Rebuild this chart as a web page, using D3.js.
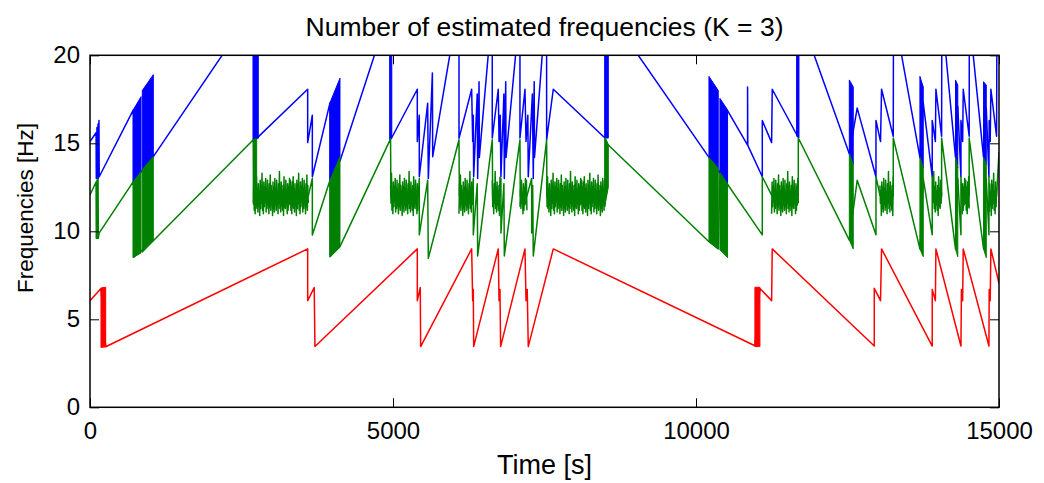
<!DOCTYPE html>
<html>
<head>
<meta charset="utf-8">
<script src="https://cdn.jsdelivr.net/npm/d3@7"></script>
<style>
  body { margin: 0; background: #fff; }
  svg { display: block; }
  text { font-family: "Liberation Sans", Arial, sans-serif; fill: #000; }
</style>
</head>
<body>
<svg id="chart"></svg>
<script>
// ---- data (time [s], frequency [Hz]) ----
var xTicks = [0, 5000, 10000, 15000];
var yTicks = [0, 5, 10, 15, 20];

var redPts = [[0,6.06],[181,6.75],[259,3.44],[3592,9.0],[3592,6.06],[3700,6.8],[3712,3.45],
  [5401,9.0],[5401,6.06],[5450,6.8],[5456,3.45],[6298,9.0],[6315,6.06],[6325,6.7],[6331,3.45],
  [6737,9.0],[6750,6.06],[6765,6.7],[6776,3.45],[7178,9.0],[7195,6.06],[7215,6.7],[7232,3.45],
  [7645,9.0],[10972,3.5],[11055,6.75],[11248,6.06],[11258,9.0],[12942,3.48],[12942,6.76],
  [13045,6.06],[13062,9.0],[13898,3.48],[13898,6.7],[13950,6.06],[13959,9.0],[14372,3.48],
  [14380,6.7],[14400,6.06],[14410,9.0],[14834,3.48],[14838,6.7],[14855,6.06],[14866,9.0],[15000,7.05]];

var greenPts = [[0,12.06],[100,12.8],[104,9.6],[115,12.9],[119,9.6],[133,13.0],[137,9.6],[150,9.9],
  [715,12.82],[715,8.52],[1040,9.45],[2695,15.2],[2700,12.0],[3602,12.0],[3669,13.0],[3669,9.79],
  [3960,12.9],[3960,8.56],[4125,9.13],[4960,15.25],[4965,12.0],[5418,12.0],[5434,13.0],[5434,9.8],
  [5572,12.9],[5583,8.47],[6089,15.2],[6095,12.0],[6308,12.0],[6325,13.0],[6325,9.8],[6390,12.7],
  [6397,8.6],[6638,15.2],[6645,12.0],[6765,12.0],[6781,13.0],[6781,9.9],[6830,12.7],[6837,8.6],
  [7095,15.2],[7100,12.0],[7210,12.0],[7288,13.0],[7288,9.9],[7305,12.6],[7315,8.6],[7535,15.2],
  [7540,12.0],[8498,12.0],[8498,15.3],[8553,14.9],[10214,9.41],[10367,9.0],[10395,13.3],
  [11094,9.8],[11094,13.1],[11248,12.06],[11688,12.0],[11688,15.3],[12530,9.5],[12660,12.9],
  [12970,9.8],[12970,13.1],[13035,12.06],[13255,12.0],[13255,15.3],[13695,9.0],[13750,13.0],
  [13898,9.8],[13898,13.1],[13915,12.0],[14053,12.0],[14053,15.3],[14282,9.0],[14320,13.0],
  [14372,9.8],[14372,13.1],[14385,12.0],[14508,12.0],[14508,15.3],[14745,9.0],[14790,13.0],
  [14834,9.8],[14834,13.1],[14840,12.0],[14960,12.0],[15000,14.5]];

var bluePts = [[0,15.1],[100,15.6],[104,13.0],[115,15.9],[119,13.0],[133,16.1],[137,13.0],[148,16.3],
  [152,13.1],[715,16.9],[715,12.82],[1045,14.24],[2200,20.1],[2450,22],[2695,21],[2695,15.2],
  [2750,15.28],[3592,18.07],[3592,15.04],[3669,16.6],[3669,13.1],[3960,17.3],[3960,12.9],
  [4125,14.0],[4703,20.1],[4850,21.5],[4950,21],[4950,15.2],[4977,15.3],[5401,18.07],[5401,15.1],
  [5434,16.6],[5434,13.1],[5572,17.27],[5583,13.0],[5650,19.0],[5655,14.24],[5940,20.07],
  [6000,21],[6089,21],[6089,15.28],[6298,18.07],[6315,15.1],[6325,16.6],[6331,13.1],[6390,17.8],
  [6397,13.0],[6420,18.5],[6425,14.2],[6572,20.05],[6600,21],[6638,21],[6638,15.3],[6737,18.07],
  [6750,15.1],[6770,16.6],[6781,13.1],[6830,17.8],[6837,13.0],[6860,18.5],[6865,14.2],
  [7024,20.05],[7060,21],[7095,21],[7095,15.3],[7178,18.07],[7195,15.1],[7225,16.6],[7232,13.1],
  [7300,17.8],[7315,13.0],[7330,18.5],[7335,14.2],[7463,20.05],[7500,21],[7535,21],[7535,15.2],
  [7645,18.07],[8498,15.3],[8498,21],[8553,21],[8800,22],[9047,20],[10214,14.2],[10395,13.3],
  [10521,16.85],[10851,14.9],[10851,18.2],[10855,14.88],[11094,13.1],[11094,16.3],[11248,15.04],
  [11258,18.07],[11676,15.4],[11680,21],[11800,22],[11950,20],[12530,14.4],[12660,17.0],
  [12970,13.1],[12970,16.3],[13045,15.1],[13062,18.07],[13255,15.4],[13258,21],[13330,22],
  [13393,20],[13695,14.2],[13750,17.3],[13898,13.1],[13898,16.3],[13950,15.1],[13959,18.07],
  [14053,15.4],[14056,21],[14090,22],[14124,20],[14282,14.2],[14320,17.1],[14372,13.1],
  [14372,16.3],[14400,15.1],[14410,18.07],[14508,15.4],[14510,21],[14540,22],[14575,20],
  [14745,14.2],[14790,17.0],[14834,13.1],[14838,16.3],[14855,15.1],[14866,18.07],[14960,15.4],
  [14965,21],[15000,22]];

// dense oscillation regions, drawn as filled outlines
var redBands = [
  [[181,3.40],[259,3.44],[259,6.82],[181,6.78]],
  [[10972,3.45],[11055,3.45],[11055,6.82],[10972,6.82]]
];
var greenBands = [
  [[715,8.52],[842,8.77],[842,13.4],[715,12.82]],
  [[863,8.8],[1045,9.45],[1045,14.24],[863,13.5]],
  [[2695,11.5],[2750,12.5],[2750,15.28],[2695,15.2]],
  [[3960,8.56],[4125,9.13],[4125,14.24],[3960,12.9]],
  [[8498,11.5],[8553,12.5],[8553,14.9],[8498,15.3]],
  [[10214,9.41],[10367,9.0],[10367,13.58],[10214,14.2]],
  [[10395,8.94],[10521,8.5],[10521,12.67],[10395,13.3]],
  [[12530,9.5],[12595,9.0],[12595,13.8],[12530,14.4]],
  [[13695,9.0],[13750,8.56],[13750,13.6],[13695,14.2]],
  [[14282,9.0],[14320,8.56],[14320,13.6],[14282,14.2]],
  [[14745,9.0],[14790,8.5],[14790,13.8],[14745,14.2]]
];
var blueBands = [
  [[715,12.82],[842,13.4],[842,17.65],[715,16.9]],
  [[863,13.5],[1045,14.24],[1045,18.9],[863,18.0]],
  [[2695,15.2],[2777,15.28],[2777,20.5],[2695,20.5]],
  [[3960,12.9],[4125,14.24],[4125,18.7],[3960,17.3]],
  [[4950,15.2],[4980,15.3],[4980,20.5],[4950,20.5]],
  [[8498,15.3],[8553,15.3],[8553,20.5],[8498,20.5]],
  [[10214,14.2],[10367,13.58],[10367,18.0],[10214,18.8]],
  [[10395,13.3],[10521,12.67],[10521,16.9],[10395,17.55]],
  [[11660,15.4],[11699,15.3],[11699,20.5],[11660,20.5]],
  [[12530,14.4],[12595,13.8],[12595,18.2],[12530,18.6]],
  [[13695,14.2],[13750,13.6],[13750,18.2],[13695,18.8]],
  [[14282,14.2],[14320,13.6],[14320,18.3],[14282,18.6]],
  [[14745,14.2],[14790,13.8],[14790,18.3],[14745,18.5]]
];

// green noisy stretches [start, end] and the noise values seen in them
var noiseSpans = [[2695,3602],[4960,5418],[6089,6308],[6638,6765],[7095,7210],[7535,8498],
  [11248,11688],[13035,13255],[13915,14053],[14385,14508],[14840,14960]];
var noiseVals = [11.6,12.9,11.2,12.5,11.0,12.8,11.4,13.1,11.3,12.4,11.1,12.7,11.5,12.2,10.9,12.9,
  11.3,12.6,11.6,13.3,11.2,12.3,11.0,12.8,11.4,12.5,11.7,13.0,11.1,12.4,11.3,12.9,11.5,12.1,11.0,
  12.7,11.4,13.2,11.2,12.6,11.6,12.3,10.9,12.8,11.3,12.5,11.1,13.0,11.5,12.4,11.2,12.9,11.4,12.2,
  11.0,12.7,11.6,13.4,11.3,12.5,11.1,12.8,11.5,12.3,11.2,12.6,10.9,13.1,11.4,12.4,11.3,12.9,11.6,
  12.2,11.0,12.7,11.2,12.5,11.5,13.0];

// ---- drawing ----
var svgW = 1044, svgH = 483;
var plotL = 90, plotR = 999, plotT = 55.3, plotB = 407.3;
var tickFont = 24, titleFont = 26.5, xLabelFont = 27, yLabelFont = 22.5;

var svg = d3.select('#chart').attr('width', svgW).attr('height', svgH);

var x = d3.scaleLinear().domain([0, 15000]).range([plotL, plotR]);
var y = d3.scaleLinear().domain([0, 20]).range([plotB, plotT]);

svg.append('defs').append('clipPath').attr('id', 'plotclip')
  .append('rect').attr('x', plotL).attr('y', plotT)
  .attr('width', plotR - plotL).attr('height', plotB - plotT);

var plot = svg.append('g').attr('clip-path', 'url(#plotclip)');
var line = d3.line().x(function(d) { return x(d[0]); }).y(function(d) { return y(d[1]); });

function drawSeries(pts, bands, color) {
  plot.selectAll(null).data(bands).enter().append('path')
    .attr('d', function(d) { return line(d) + 'Z'; })
    .attr('fill', color).attr('stroke', color).attr('stroke-width', 1);
  plot.append('path').datum(pts)
    .attr('d', line)
    .attr('fill', 'none').attr('stroke', color)
    .attr('stroke-width', 1.5).attr('stroke-linejoin', 'round');
}

// noise polylines
var noiseLines = noiseSpans.map(function(s, k) {
  var n = Math.max(8, Math.round((x(s[1]) - x(s[0])) * 2.2));
  var pts = [];
  for (var i = 0; i < n; i++) {
    pts.push([s[0] + (s[1] - s[0]) * i / (n - 1), noiseVals[(i + k * 17) % noiseVals.length]]);
  }
  return pts;
});

drawSeries(bluePts, blueBands, '#0000ff');
drawSeries(greenPts, greenBands, '#008000');
plot.selectAll(null).data(noiseLines).enter().append('path')
  .attr('d', line).attr('fill', 'none').attr('stroke', '#008000')
  .attr('stroke-width', 1.5).attr('stroke-linejoin', 'round');
drawSeries(redPts, redBands, '#ff0000');

// ---- axes (MATLAB style box, inward ticks) ----
var tickLen = 9;
var axes = svg.append('g');

axes.append('g').attr('transform', 'translate(0,' + plotB + ')')
  .call(d3.axisBottom(x).tickValues(xTicks).tickSize(-tickLen).tickPadding(15)
    .tickFormat(d3.format('d')))
  .call(function(g) { g.select('.domain').remove(); });
axes.append('g').attr('transform', 'translate(0,' + plotT + ')')
  .call(d3.axisTop(x).tickValues(xTicks).tickSize(-tickLen).tickFormat(''))
  .call(function(g) { g.select('.domain').remove(); });
axes.append('g').attr('transform', 'translate(' + plotL + ',0)')
  .call(d3.axisLeft(y).tickValues(yTicks).tickSize(-tickLen).tickPadding(10))
  .call(function(g) { g.select('.domain').remove(); });
axes.append('g').attr('transform', 'translate(' + plotR + ',0)')
  .call(d3.axisRight(y).tickValues(yTicks).tickSize(-tickLen).tickFormat(''))
  .call(function(g) { g.select('.domain').remove(); });

axes.selectAll('.tick line').attr('stroke', '#000').attr('stroke-width', 1);
axes.selectAll('.tick text')
  .style('font-family', '"Liberation Sans", Arial, sans-serif')
  .style('font-size', tickFont + 'px').attr('fill', '#000');

axes.append('rect').attr('x', plotL).attr('y', plotT)
  .attr('width', plotR - plotL).attr('height', plotB - plotT)
  .attr('fill', 'none').attr('stroke', '#000').attr('stroke-width', 1.5);

// ---- labels ----
svg.append('text').attr('x', (plotL + plotR) / 2).attr('y', 36)
  .attr('text-anchor', 'middle').style('font-size', titleFont + 'px')
  .text('Number of estimated frequencies (K = 3)');
svg.append('text').attr('x', (plotL + plotR) / 2).attr('y', 474)
  .attr('text-anchor', 'middle').style('font-size', xLabelFont + 'px')
  .text('Time [s]');
svg.append('text')
  .attr('transform', 'translate(33,208) rotate(-90)')
  .attr('text-anchor', 'middle').style('font-size', yLabelFont + 'px')
  .text('Frequencies [Hz]');
</script>
</body>
</html>
